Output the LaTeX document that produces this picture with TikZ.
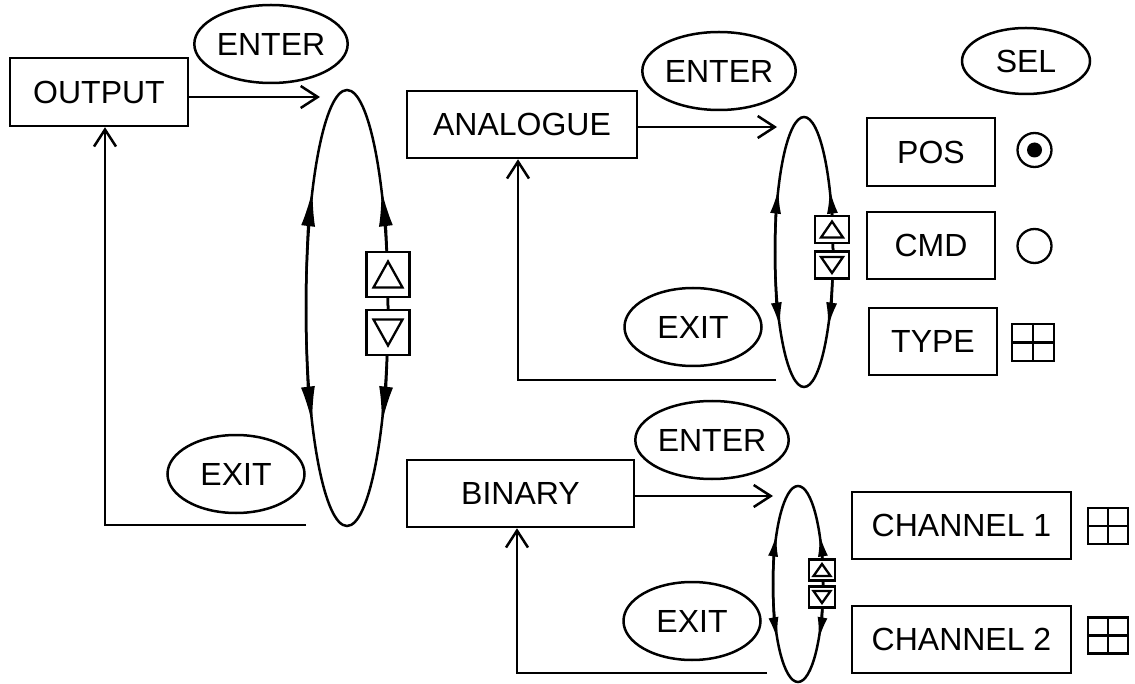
\documentclass[tikz,border=0pt]{standalone}
\usepackage{fontspec}
\setmainfont{Liberation Sans}
\usetikzlibrary{arrows.meta,shapes.geometric}
\begin{document}
\begin{tikzpicture}[x=1pt,y=-1pt,
  every node/.style={font=\fontsize{32}{38}\selectfont},
  lw/.style={line width=2.5pt},
  box/.style={lw,draw,rectangle,inner sep=0pt,fill=white},
  lbl/.style={lw,draw,ellipse,inner sep=0pt,minimum width=137pt,minimum height=78pt},
  arr/.style={lw,-{Straight Barb[length=17pt,width=22pt,line width=2.5pt]}},
  bigtip/.style={lw,-{Latex[length=37pt,width=14pt]}},
  medtip/.style={lw,-{Latex[length=25pt,width=11pt]}},
  smltip/.style={lw,-{Latex[length=23pt,width=10pt]}},
  btn/.style={lw,draw,rectangle,fill=white,inner sep=0pt},
  tri/.style={line width=2.3pt,line join=miter},
  sym/.style={line width=2.3pt}
]
\useasboundingbox (0,0) rectangle (1135,684);

% ---------- left level ----------
\node[box,minimum width=178pt,minimum height=68pt] (output) at (99,92) {OUTPUT};
\node[lbl] (enter1) at (271,44) {ENTER};
\node[lbl] (exit1) at (236,474) {EXIT};
\coordinate (t1) at (320,97);
\coordinate (e1) at (306,525);
\draw[arr] ([yshift=-5pt]output.east) -- (t1);
\draw[arr] (e1) -| ([xshift=6pt]output.south);

% big loop
\node[lw,draw,ellipse,inner sep=0pt,minimum width=82pt,minimum height=436pt] (loop1) at (347,308) {};
\draw[bigtip] (388,308) arc[start angle=0,end angle=-33,x radius=41,y radius=218];
\draw[bigtip] (306,308) arc[start angle=180,end angle=213,x radius=41,y radius=218];
\draw[bigtip] (388,308) arc[start angle=0,end angle=32,x radius=41,y radius=218];
\draw[bigtip] (306,308) arc[start angle=180,end angle=148,x radius=41,y radius=218];
\node[btn,minimum width=43pt,minimum height=45pt] (up1) at (388,274.5) {};
\node[btn,minimum width=43pt,minimum height=45pt] (dn1) at (388,332.5) {};
\draw[tri,shift={(up1.center)}] (-14.5,13) -- (14.5,13) -- (0,-13) -- cycle;
\draw[tri,shift={(dn1.center)}] (-14.5,-13) -- (14.5,-13) -- (0,13) -- cycle;

% ---------- ANALOGUE level ----------
\node[box,minimum width=230pt,minimum height=67pt] (analogue) at (522,124.5) {ANALOGUE};
\node[lbl] (enter2) at (719,71) {ENTER};
\node[lbl] (exit2) at (693,327) {EXIT};
\coordinate (t2) at (777,127);
\coordinate (e2) at (776,380);
\draw[arr] ([yshift=-2.5pt]analogue.east) -- (t2);
\draw[arr] (e2) -| ([xshift=-4pt]analogue.south);

\node[lw,draw,ellipse,inner sep=0pt,minimum width=58pt,minimum height=270pt] (loop2) at (804,252) {};
\draw[medtip] (833,252) arc[start angle=0,end angle=-28,x radius=29,y radius=135];
\draw[medtip] (775,252) arc[start angle=180,end angle=208,x radius=29,y radius=135];
\draw[medtip] (833,252) arc[start angle=0,end angle=34,x radius=29,y radius=135];
\draw[medtip] (775,252) arc[start angle=180,end angle=146,x radius=29,y radius=135];
\node[btn,minimum width=34pt,minimum height=27pt] (up2) at (832,229.5) {};
\node[btn,minimum width=34pt,minimum height=27pt] (dn2) at (832,265) {};
\draw[tri,shift={(up2.center)}] (-11,8) -- (11,8) -- (0,-8) -- cycle;
\draw[tri,shift={(dn2.center)}] (-11,-8) -- (11,-8) -- (0,8) -- cycle;

\node[lbl,minimum width=128pt,minimum height=66pt] (sel) at (1026,61) {SEL};
\node[box,minimum width=128pt,minimum height=68pt] (pos) at (931,152) {POS};
\node[box,minimum width=128pt,minimum height=67pt] (cmd) at (931,245.5) {CMD};
\node[box,minimum width=128pt,minimum height=67pt] (type) at (933,341.5) {TYPE};

\node[sym,draw,circle,inner sep=0pt,minimum size=34pt] (radio1) at (1034.5,150) {};
\fill (radio1.center) circle[radius=7.5];
\node[sym,draw,circle,inner sep=0pt,minimum size=34pt] (radio2) at (1034.5,246) {};
\node[sym,draw,rectangle,inner sep=0pt,minimum width=42pt,minimum height=37pt] (g1) at (1033,342.5) {};
\draw[sym] (g1.west) -- (g1.east) (g1.north) -- (g1.south);

% ---------- BINARY level ----------
\node[box,minimum width=227pt,minimum height=67pt] (binary) at (520.5,493.5) {BINARY};
\node[lbl] (enter3) at (712,440) {ENTER};
\node[lbl] (exit3) at (692,621) {EXIT};
\coordinate (t3) at (773,496);
\coordinate (e3) at (767,673);
\draw[arr] ([yshift=-2.5pt]binary.east) -- (t3);
\draw[arr] (e3) -| ([xshift=-3.5pt]binary.south);

\node[lw,draw,ellipse,inner sep=0pt,minimum width=50pt,minimum height=196pt] (loop3) at (798,584) {};
\draw[smltip] (823,584) arc[start angle=0,end angle=-31,x radius=25,y radius=98];
\draw[smltip] (773,584) arc[start angle=180,end angle=211,x radius=25,y radius=98];
\draw[smltip] (823,584) arc[start angle=0,end angle=35,x radius=25,y radius=98];
\draw[smltip] (773,584) arc[start angle=180,end angle=145,x radius=25,y radius=98];
\node[btn,minimum width=26pt,minimum height=21pt] (up3) at (822,570) {};
\node[btn,minimum width=26pt,minimum height=21pt] (dn3) at (822,597) {};
\draw[tri,shift={(up3.center)}] (-8.5,6) -- (8.5,6) -- (0,-6) -- cycle;
\draw[tri,shift={(dn3.center)}] (-8.5,-6) -- (8.5,-6) -- (0,6) -- cycle;

\node[box,minimum width=219pt,minimum height=67pt] (ch1) at (961.5,525.5) {CHANNEL 1};
\node[box,minimum width=219pt,minimum height=67pt] (ch2) at (961.5,639.5) {CHANNEL 2};
\node[sym,draw,rectangle,inner sep=0pt,minimum width=40pt,minimum height=36pt] (g2) at (1108,526) {};
\draw[sym] (g2.west) -- (g2.east) (g2.north) -- (g2.south);
\node[sym,draw,rectangle,inner sep=0pt,minimum width=40pt,minimum height=36pt] (g3) at (1108,635.5) {};
\draw[sym] (g3.west) -- (g3.east) (g3.north) -- (g3.south);
\end{tikzpicture}
\end{document}
